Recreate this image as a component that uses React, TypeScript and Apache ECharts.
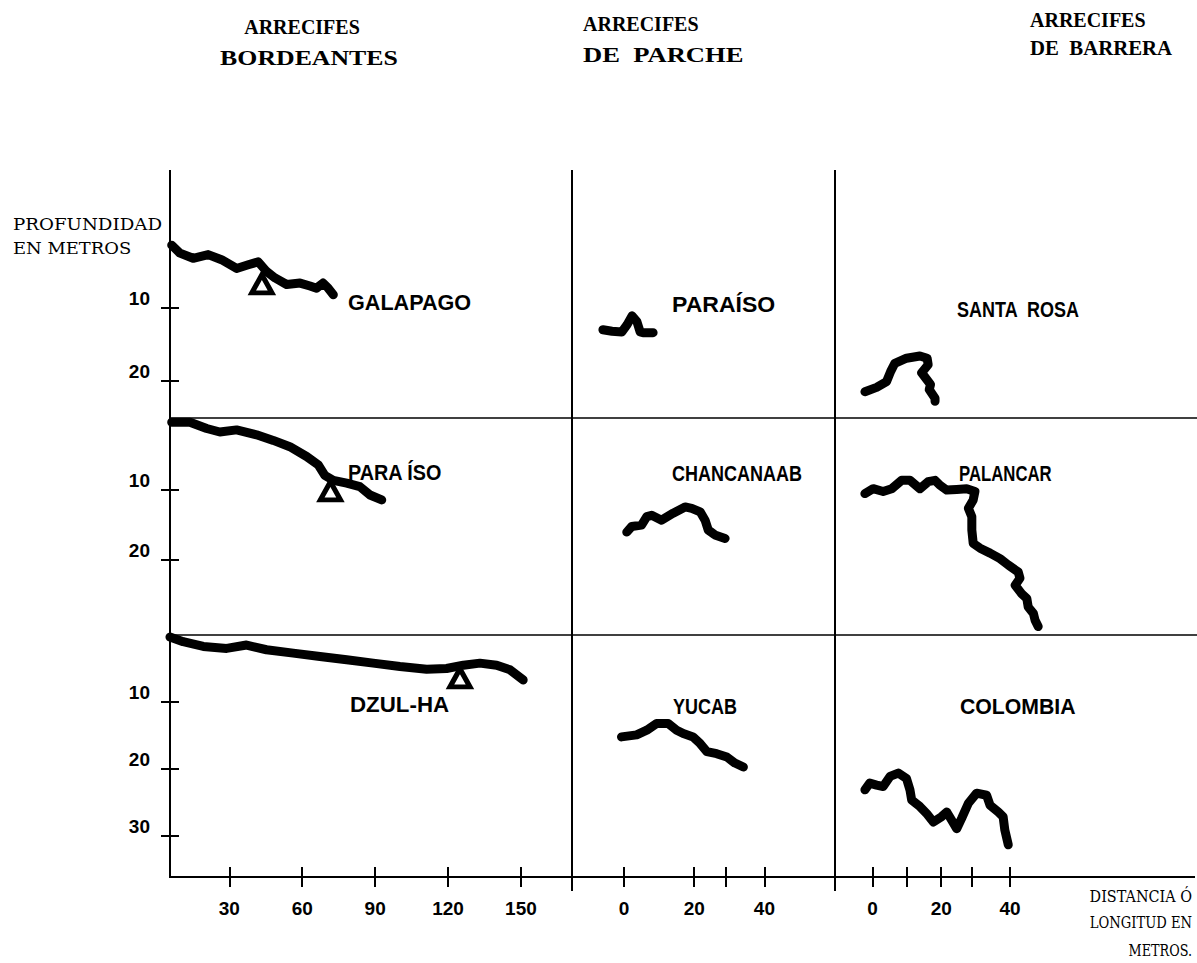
import { useEffect, useRef } from "react";
import * as echarts from "echarts";

// ---- Data (distance in metres, depth in metres) ----
const galapago = [[6.3,1.4],[9.7,2.5],[15.1,3.2],[21.3,2.7],[26.8,3.4],[33.0,4.6],[37.8,4.1],[41.9,3.7],[45.3,5.0],[48.8,5.9],[53.6,6.8],[59.1,6.6],[63.2,7.0],[65.9,7.3],[68.6,6.6],[70.7,7.3],[72.8,8.2]];
const galapagoMark = [[43.4,6.7]];
const paraisoBordeante = [[6.3,0.3],[13.8,0.3],[20.7,1.2],[26.1,1.7],[33.0,1.4],[41.2,2.1],[48.1,2.9],[54.9,3.8],[61.8,5.2],[66.6,6.4],[69.3,7.9],[72.8,8.6],[78.3,9.0],[83.7,9.5],[87.9,10.7],[92.7,11.4]];
const paraisoBordeanteMark = [[71.6,10.1]];
const dzulHa = [[5.6,0.3],[11.0,1.0],[19.3,1.7],[28.9,2.0],[37.1,1.5],[45.3,2.2],[56.3,2.7],[67.3,3.2],[78.3,3.7],[89.2,4.2],[100.2,4.7],[111.2,5.1],[119.4,5.0],[126.3,4.5],[133.1,4.2],[140.0,4.5],[145.5,5.2],[150.9,6.7]];
const dzulHaMark = [[124.9,6.4]];
const paraisoParche = [[-6.0,13.0],[-3.4,13.2],[-0.6,13.3],[0.9,12.3],[2.3,11.1],[3.7,11.9],[4.6,13.3],[5.4,13.4],[8.3,13.4]];
const chancanaab = [[0.8,16.0],[2.2,15.2],[5.0,15.0],[6.5,13.8],[7.9,13.6],[10.7,14.3],[14.0,13.3],[17.4,12.4],[19.3,12.6],[21.7,13.1],[23.1,14.3],[24.0,15.7],[25.9,16.4],[28.8,16.9]];
const yucab = [[-0.7,15.2],[3.6,14.9],[6.5,14.2],[9.3,13.2],[12.6,13.2],[15.0,14.2],[16.9,14.7],[19.7,15.2],[21.7,16.2],[23.6,17.4],[26.4,17.7],[29.3,18.2],[31.6,19.1],[34.0,19.7]];
const santaRosa = [[-2.2,21.5],[1.2,20.9],[4.1,20.1],[5.3,18.7],[6.5,17.6],[9.9,16.9],[13.8,16.6],[15.9,16.9],[16.2,17.8],[14.3,18.9],[15.9,19.9],[16.9,20.5],[16.5,21.2],[18.2,22.4],[18.2,22.8]];
const palancar = [[-2.2,10.5],[0.2,9.8],[3.1,10.2],[5.6,9.8],[8.5,8.6],[10.9,8.6],[13.8,9.8],[16.2,8.8],[18.2,8.6],[19.6,9.3],[21.6,10.0],[24.5,9.9],[27.4,9.8],[29.8,10.2],[29.3,11.4],[27.9,12.6],[28.9,13.8],[28.9,15.7],[29.3,17.6],[31.3,18.3],[34.2,19.0],[37.1,19.8],[39.5,20.7],[42.4,21.7],[42.9,22.6],[41.5,23.6],[43.4,24.8],[44.9,25.5],[45.3,26.7],[46.8,27.6],[47.3,28.6],[48.2,29.5]];
const colombia = [[-2.2,23.1],[-0.8,22.1],[1.2,22.4],[3.1,22.6],[5.1,21.1],[7.5,20.6],[9.9,21.4],[10.9,23.1],[11.4,24.6],[13.8,25.6],[15.7,26.6],[17.7,27.9],[20.1,27.1],[21.6,26.4],[23.0,27.6],[24.5,28.9],[25.9,27.4],[27.9,25.1],[30.3,23.6],[33.2,23.9],[34.2,25.4],[36.6,26.4],[38.0,27.1],[38.5,29.1],[39.5,31.3]];

// tick values
const col1Ticks = [30, 60, 90, 120, 150];
const col2Ticks = [0, 20, 29, 40];
const col3Ticks = [0, 10, 20, 29, 40];
const col2Labels = [0, 20, 40];
const col3Labels = [0, 20, 40];
const depthTicksTop = [10, 20];
const depthTicksMid = [10, 20];
const depthTicksBottom = [10, 20, 30];

const columnTitles = [["ARRECIFES", "BORDEANTES"], ["ARRECIFES", "DE  PARCHE"], ["ARRECIFES", "DE  BARRERA"]];
const reefNames = [["GALAPAGO", "PARAÍSO", "SANTA  ROSA"], ["PARA ÍSO", "CHANCANAAB", "PALANCAR"], ["DZUL-HA", "YUCAB", "COLOMBIA"]];

// ---- layout ----
const COL_X = [[170, 572], [572, 835], [835, 1197]];
const ROW_Y = [[170, 418], [418, 635], [635, 877]];
const X_RANGE = [[5.6, 171.0], [-14.8, 60.1], [-10.9, 94.4]];
const Y_RANGE = [[-8.9, 25.1], [-0.3, 30.7], [0, 36.1]];

const numFont = { fontSize: 19, fontWeight: "bold" as const, fontFamily: "Liberation Sans, Arial, sans-serif", color: "#000" };

function buildOption() {
  const grids: any[] = [];
  const xAxes: any[] = [];
  const yAxes: any[] = [];
  const xTicks = [col1Ticks, col2Ticks, col3Ticks];
  const xLabels = [col1Ticks, col2Labels, col3Labels];
  const yTicks = [depthTicksTop, depthTicksMid, depthTicksBottom];
  for (let r = 0; r < 3; r++) {
    for (let c = 0; c < 3; c++) {
      const idx = r * 3 + c;
      grids.push({ left: COL_X[c][0], width: COL_X[c][1] - COL_X[c][0], top: ROW_Y[r][0], height: ROW_Y[r][1] - ROW_Y[r][0] });
      const showX = r === 2;
      xAxes.push({
        gridIndex: idx, type: "value", min: X_RANGE[c][0], max: X_RANGE[c][1], position: "bottom", offset: -10,
        show: showX, axisLine: { show: false, onZero: false }, splitLine: { show: false },
        axisTick: { show: true, length: 20, customValues: xTicks[c], lineStyle: { color: "#000", width: 2 } },
        axisLabel: { show: true, customValues: xLabels[c], margin: 32, ...numFont },
      });
      const showY = c === 0;
      yAxes.push({
        gridIndex: idx, type: "value", inverse: true, min: Y_RANGE[r][0], max: Y_RANGE[r][1], position: "left", offset: -9,
        show: showY, axisLine: { show: false, onZero: false }, splitLine: { show: false },
        axisTick: { show: true, length: 18, customValues: yTicks[r], lineStyle: { color: "#000", width: 2 } },
        axisLabel: { show: true, customValues: yTicks[r], margin: 29, verticalAlign: "bottom", ...numFont },
      });
    }
  }

  const profiles = [
    { data: galapago, r: 0, c: 0 }, { data: paraisoParche, r: 0, c: 1 }, { data: santaRosa, r: 0, c: 2 },
    { data: paraisoBordeante, r: 1, c: 0 }, { data: chancanaab, r: 1, c: 1 }, { data: palancar, r: 1, c: 2 },
    { data: dzulHa, r: 2, c: 0 }, { data: yucab, r: 2, c: 1 }, { data: colombia, r: 2, c: 2 },
  ];
  const marks = [
    { data: galapagoMark, r: 0 }, { data: paraisoBordeanteMark, r: 1 }, { data: dzulHaMark, r: 2 },
  ];
  const series: any[] = [];
  profiles.forEach((p) => {
    const idx = p.r * 3 + p.c;
    series.push({
      type: "line", xAxisIndex: idx, yAxisIndex: idx, data: p.data, symbol: "none", showSymbol: false,
      clip: false, z: 3, silent: true,
      lineStyle: { color: "#000", width: 9, cap: "round", join: "round" },
    });
  });
  marks.forEach((m) => {
    const idx = m.r * 3;
    series.push({
      type: "scatter", xAxisIndex: idx, yAxisIndex: idx, data: m.data, symbol: "triangle", symbolSize: [20, 18],
      z: 2, silent: true, itemStyle: { color: "#fff", borderColor: "#000", borderWidth: 5, opacity: 1 },
    });
  });

  const graphic: any[] = [];
  const ln = (x1: number, y1: number, x2: number, y2: number, w = 2) =>
    graphic.push({ type: "line", shape: { x1, y1, x2, y2 }, style: { stroke: "#000", lineWidth: w }, z: 5 });
  ln(170, 170, 170, 878);
  ln(572, 170, 572, 891);
  ln(835, 170, 835, 891);
  ln(170, 418, 1197, 418, 1.5);
  ln(170, 635, 1197, 635, 1.5);
  ln(170, 877, 1195, 877, 2);

  const txt = (text: string, x: number, y: number, font: string, align = "left", sx = 1, sy = 1) =>
    graphic.push({
      type: "text", x, y, z: 6, scaleX: sx, scaleY: sy,
      style: { text, fill: "#000", font, align, textAlign: align, verticalAlign: "middle", textVerticalAlign: "middle" },
    });
  const titleFont = 'bold 20px "Liberation Serif", "Times New Roman", serif';
  txt(columnTitles[0][0], 302, 27, titleFont, "center");
  txt(columnTitles[0][1], 309, 58, titleFont, "center", 1.29);
  txt(columnTitles[1][0], 583, 24, titleFont);
  txt(columnTitles[1][1], 583, 55, titleFont, "left", 1.33);
  txt(columnTitles[2][0], 1030, 20, titleFont);
  txt(columnTitles[2][1], 1030, 48, titleFont, "left", 1.04);

  const axisNameFont = '16px "DejaVu Serif", serif';
  txt("PROFUNDIDAD", 13, 224, axisNameFont, "left", 1.14);
  txt("EN METROS", 13, 248, axisNameFont, "left", 1.12);
  txt("DISTANCIA O\u0301", 1192, 897, axisNameFont, "right", 0.9);
  txt("LONGITUD EN", 1192, 922, axisNameFont, "right", 0.82);
  txt("METROS.", 1192, 950, axisNameFont, "right", 0.8);

  const nameFont = 'bold 18px "Liberation Sans", Arial, sans-serif';
  const namePos = [
    [[348, 302], [672, 305], [957, 309]],
    [[348, 472], [672, 473], [959, 473]],
    [[350, 705], [673, 706], [960, 706]],
  ];
  const nameScale = [
    [1.2, 1.28, 1.0],
    [1.1, 1.0, 0.93],
    [1.24, 1.0, 1.18],
  ];
  for (let r = 0; r < 3; r++)
    for (let c = 0; c < 3; c++)
      txt(reefNames[r][c], namePos[r][c][0], namePos[r][c][1], nameFont, "left", nameScale[r][c], 1.22);

  return {
    animation: false,
    backgroundColor: "#fff",
    grid: grids,
    xAxis: xAxes,
    yAxis: yAxes,
    series,
    graphic: { elements: graphic },
  };
}

export default function App() {
  const ref = useRef<HTMLDivElement>(null);
  useEffect(() => {
    if (!ref.current) return;
    const chart = echarts.init(ref.current, null, { renderer: "svg" });
    chart.setOption(buildOption() as any);
    return () => chart.dispose();
  }, []);
  return <div ref={ref} style={{ position: "absolute", left: 0, top: 0, width: 1197, height: 963 }} />;
}
